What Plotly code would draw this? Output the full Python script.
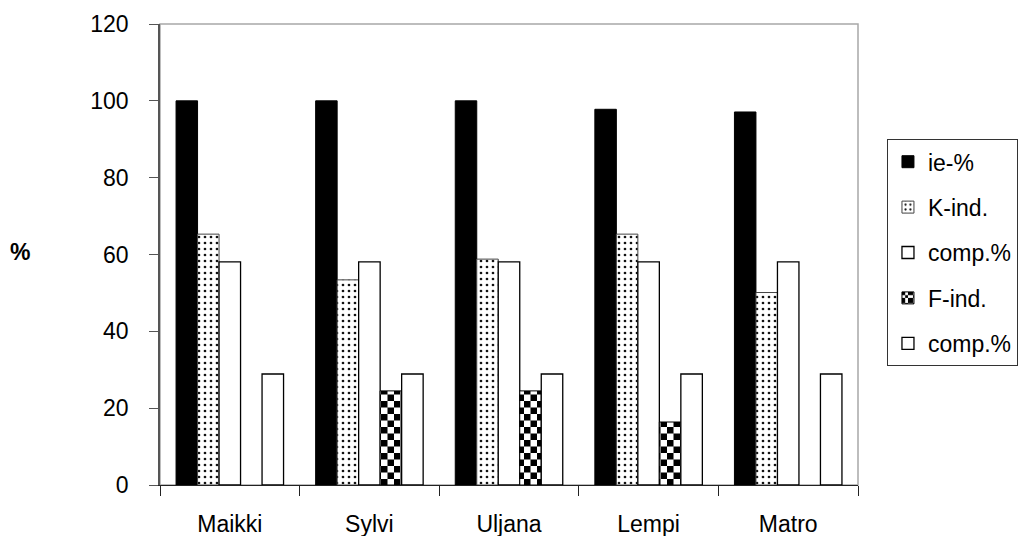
import plotly.graph_objects as go

# Category labels and series values (%)
persons = ["Maikki", "Sylvi", "Uljana", "Lempi", "Matro"]
ie_pct = [100, 100, 100, 97.8, 97.1]
k_ind = [65.3, 53.4, 58.8, 65.3, 50.1]
comp_pct_k = [58.1, 58.1, 58.1, 58.1, 58.1]
f_ind = [None, 24.5, 24.5, 16.4, None]
comp_pct_f = [28.9, 28.9, 28.9, 28.9, 28.9]
y_ticks = [0, 20, 40, 60, 80, 100, 120]

FONT = "Liberation Sans, Arial, sans-serif"
FS = 23

fig = go.Figure()

fig.add_bar(
    x=persons, y=ie_pct, name="ie-%", legendgroup="a",
    marker=dict(color="black", line=dict(color="black", width=1)),
)
fig.add_bar(
    x=persons, y=k_ind, name="K-ind.", legendgroup="b",
    marker=dict(
        color="white",
        line=dict(color="#444444", width=1),
        pattern=dict(shape=".", fgcolor="#111111", bgcolor="white",
                     size=6, solidity=0.16, fgopacity=1),
    ),
)
fig.add_bar(
    x=persons, y=comp_pct_k, name="comp.%", legendgroup="c",
    marker=dict(color="white", line=dict(color="black", width=1.3)),
)
fig.add_bar(
    x=persons, y=f_ind, name="F-ind.", legendgroup="d",
    marker=dict(
        color="white",
        line=dict(color="black", width=1),
        pattern=dict(path="M0,0H6.5V6.5H0Z M6.5,6.5H13V13H6.5Z",
                     fgcolor="black", bgcolor="white", size=13, fgopacity=1),
    ),
)
fig.add_bar(
    x=persons, y=comp_pct_f, name="comp.%", legendgroup="e",
    marker=dict(color="white", line=dict(color="black", width=1.3)),
)

# Plot-area frame (top and right edges in light gray)
fig.add_shape(
    type="rect", xref="paper", yref="paper", x0=0, x1=1, y0=0, y1=1,
    line=dict(color="#a8a8a8", width=1.5), layer="below",
)

# "%" label left of the value axis
fig.add_annotation(
    text="<b>%</b>", xref="paper", yref="paper", x=-0.2, y=0.505,
    xanchor="center", yanchor="middle", showarrow=False,
    font=dict(family=FONT, size=FS, color="black"),
)

fig.update_layout(
    width=1018, height=536,
    margin=dict(l=160, r=160, t=24, b=51, autoexpand=False),
    paper_bgcolor="white", plot_bgcolor="white",
    barmode="group", bargap=0.23, bargroupgap=0,
    font=dict(family=FONT, size=FS, color="black"),
    showlegend=True,
    legend=dict(
        x=1.0415, y=0.75, xanchor="left", yanchor="top",
        bordercolor="#333333", borderwidth=1, bgcolor="white",
        tracegroupgap=12.5, traceorder="grouped",
        font=dict(family=FONT, size=FS, color="black"),
    ),
)

fig.update_xaxes(
    showline=True, linecolor="#222222", linewidth=1.3,
    ticks="outside", ticklen=10, tickcolor="#222222", tickwidth=1.3,
    tickson="boundaries", showgrid=False, ticklabelstandoff=18,
    automargin=False,
)
fig.update_yaxes(
    range=[0, 120], tickvals=y_ticks, ticktext=[str(v) for v in y_ticks],
    showline=True, linecolor="#555555", linewidth=1.5,
    ticks="outside", ticklen=9, tickcolor="#555555", tickwidth=1.3,
    showgrid=False, zeroline=False, ticklabelstandoff=16,
    automargin=False,
)

fig.write_html("out.html")
